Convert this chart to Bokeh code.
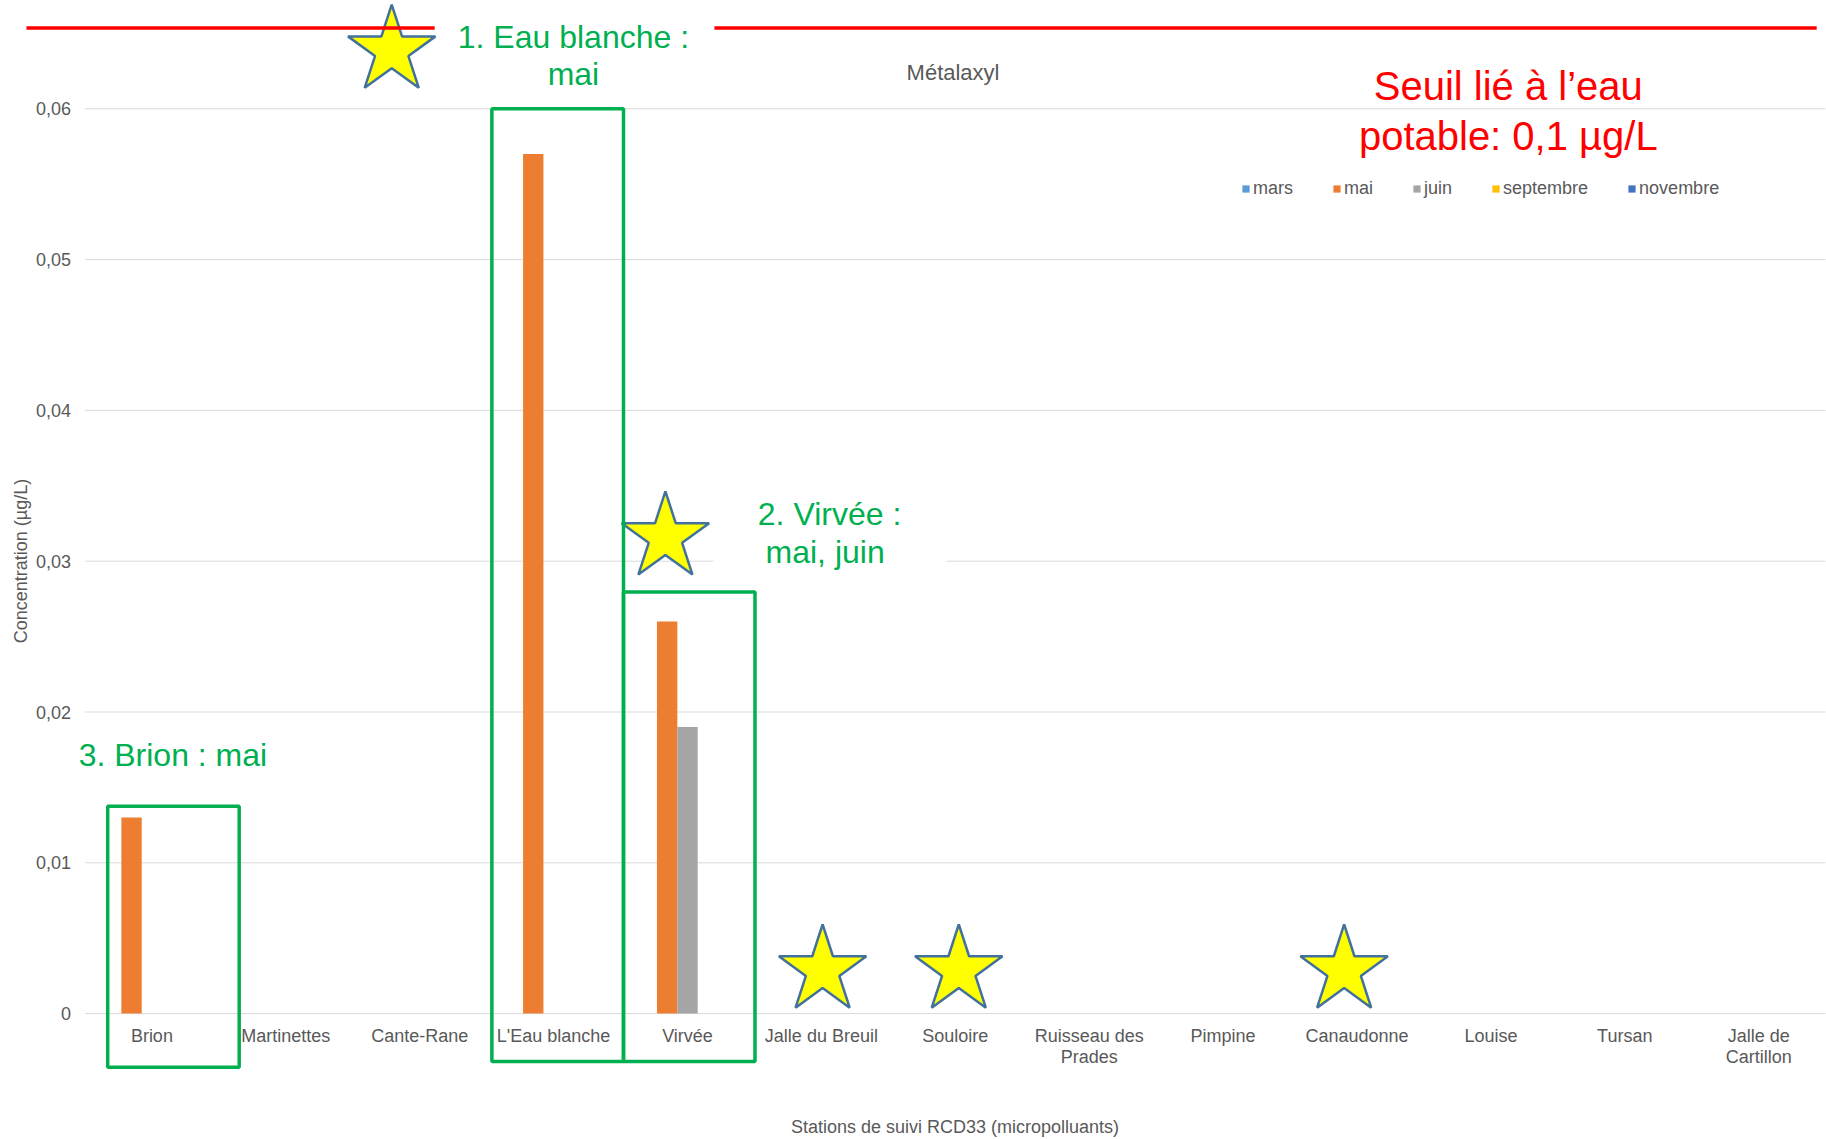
from bokeh.plotting import figure
from bokeh.models import (ColumnDataSource, FixedTicker, BoxAnnotation, Label,
                          Legend, LegendItem, Range1d)
from bokeh.transform import dodge
from bokeh.embed import file_html
from bokeh.resources import INLINE

# ---------------- data ----------------
stations = ["Brion", "Martinettes", "Cante-Rane", "L'Eau blanche", "Virvée",
            "Jalle du Breuil", "Souloire", "Ruisseau des\nPrades", "Pimpine",
            "Canaudonne", "Louise", "Tursan", "Jalle de\nCartillon"]
months = ["mars", "mai", "juin", "septembre", "novembre"]
mars = [0, 0, 0, 0, 0, 0, 0, 0, 0, 0, 0, 0, 0]
mai = [0.013, 0, 0, 0.057, 0.026, 0, 0, 0, 0, 0, 0, 0, 0]
juin = [0, 0, 0, 0, 0.019, 0, 0, 0, 0, 0, 0, 0, 0]
septembre = [0, 0, 0, 0, 0, 0, 0, 0, 0, 0, 0, 0, 0]
novembre = [0, 0, 0, 0, 0, 0, 0, 0, 0, 0, 0, 0, 0]
ytick_values = [0, 0.01, 0.02, 0.03, 0.04, 0.05, 0.06]
ytick_labels = ["0", "0,01", "0,02", "0,03", "0,04", "0,05", "0,06"]

colors = ["#5B9BD5", "#ED7D31", "#A5A5A5", "#FFC000", "#4472C4"]
GRAY = "#595959"
GREEN = "#00B050"
FONT = "Liberation Sans"

n = len(stations)
src = ColumnDataSource(dict(x=list(range(n)), mars=mars, mai=mai,
                            juin=juin, septembre=septembre, novembre=novembre))

W, H = 1826, 1139
X0, DX = 151.4, 133.9      # pixel of first category, pixel per category
Y0, DY = 1013.1, 15080.0   # pixel of value 0, pixel per unit
p = figure(width=W, height=H, output_backend="svg", toolbar_location=None,
           x_range=Range1d(-X0 / DX, (W - X0) / DX),
           y_range=Range1d((Y0 - H) / DY, Y0 / DY),
           min_border_left=0, min_border_right=0, min_border_top=0,
           min_border_bottom=0)
p.outline_line_color = None
p.background_fill_color = "white"
p.border_fill_color = "white"
p.xgrid.visible = False
p.ygrid.visible = False

# horizontal gridlines limited to the plotting area
p.segment(x0=-0.5, x1=n - 0.5, y0=ytick_values, y1=ytick_values,
          line_color="#D9D9D9", line_width=1)

# bars
bw = 0.152
offsets = [-2 * bw, -bw, 0, bw, 2 * bw]
renderers = []
for m, c, off in zip(months, colors, offsets):
    r = p.vbar(x=dodge("x", off, range=p.x_range), top=m, width=bw, source=src,
               fill_color=c, line_color=None)
    renderers.append(r)

# axes (drawn at fixed locations inside the frame)
yax = p.yaxis[0]
yax.fixed_location = -0.5
yax.bounds = (0, 0.06)
yax.ticker = FixedTicker(ticks=ytick_values)
yax.major_label_overrides = {v: l for v, l in zip(ytick_values, ytick_labels)}
yax.axis_line_color = None
yax.major_tick_line_color = None
yax.minor_tick_line_color = None
yax.major_tick_out = 0
yax.major_tick_in = 0
yax.minor_tick_out = 0
yax.major_label_standoff = 14
yax.major_label_text_font = FONT
yax.major_label_text_font_size = "18px"
yax.major_label_text_color = GRAY
yax.axis_label = "Concentration (µg/L)"
yax.axis_label_text_font = FONT
yax.axis_label_text_font_size = "18px"
yax.axis_label_text_font_style = "normal"
yax.axis_label_text_color = GRAY
yax.axis_label_standoff = 1

xax = p.xaxis[0]
xax.fixed_location = 0
xax.bounds = (-0.5, n - 0.5)
xax.ticker = FixedTicker(ticks=list(range(n)))
xax.major_label_overrides = {i: s for i, s in enumerate(stations)}
xax.axis_line_color = None
xax.major_tick_line_color = None
xax.minor_tick_line_color = None
xax.major_tick_out = 0
xax.major_tick_in = 0
xax.minor_tick_out = 0
xax.major_label_standoff = 12
xax.major_label_text_font = FONT
xax.major_label_text_font_size = "18px"
xax.major_label_text_line_height = 1.05
xax.major_label_text_color = GRAY
xax.axis_label = "Stations de suivi RCD33 (micropolluants)"
xax.axis_label_text_font = FONT
xax.axis_label_text_font_size = "18px"
xax.axis_label_text_font_style = "normal"
xax.axis_label_text_color = GRAY
xax.axis_label_standoff = 47

# legend
legend = Legend(items=[LegendItem(label=m, renderers=[r]) for m, r in zip(months, renderers)],
                location=(1241, 940), orientation="horizontal",
                glyph_width=9, glyph_height=9, label_standoff=3, spacing=39,
                padding=0, margin=0, border_line_color=None,
                background_fill_alpha=0, label_text_font=FONT,
                label_text_font_size="18px", label_text_color=GRAY,
                label_height=20)
p.add_layout(legend)

# red threshold line (broken by the text box)
red_y = 0.06536
for l, r in [(-0.937, 2.112), (4.201, 12.433)]:
    p.add_layout(BoxAnnotation(left=l, right=r, bottom=red_y - 0.00012, top=red_y + 0.00012,
                               fill_color="#FF0000", fill_alpha=1, line_color=None))

# white background behind "2. Virvée" text box
p.add_layout(BoxAnnotation(left=4.194, right=5.94, bottom=0.0288, top=0.0350,
                           fill_color="white", fill_alpha=1, line_color=None))

# green highlight boxes
for l, r, b, t in [(-0.330, 0.652, -0.00355, 0.01375),
                   (2.539, 3.522, -0.00317, 0.0600),
                   (3.522, 4.504, -0.00317, 0.02795)]:
    p.add_layout(BoxAnnotation(left=l, right=r, bottom=b, top=t, fill_alpha=0,
                               fill_color=None, line_color=GREEN, line_alpha=1,
                               line_width=3.5))

# stars
star_x = [1.791, 3.835, 5.009, 6.026, 8.904]
star_y = [0.06386, 0.03158, 0.00286, 0.00286, 0.00286]
p.scatter(star_x, star_y, marker="star", size=92, fill_color="#FFFF00",
          line_color="#41719C", line_width=2.5)

# texts
def lab(x, y, t, size, color):
    p.add_layout(Label(x=x, y=y, text=t, text_align="center", text_baseline="middle",
                       text_font=FONT, text_font_size=size, text_color=color))

lab(5.983, 0.06239, "Métalaxyl", "22px", GRAY)
lab(3.148, 0.06478, "1. Eau blanche :", "32px", GREEN)
lab(3.148, 0.06231, "mai", "32px", GREEN)
lab(5.061, 0.03313, "2. Virvée :", "32px", GREEN)
lab(5.061, 0.03058, "mai,  juin", "32px", GREEN)
lab(0.157, 0.01714, "3. Brion : mai", "32px", GREEN)
lab(10.13, 0.06154, "Seuil lié à l’eau", "40px", "#FF0000")
lab(10.13, 0.05822, "potable: 0,1 µg/L", "40px", "#FF0000")

open("out.html", "w").write(file_html(p, INLINE))
